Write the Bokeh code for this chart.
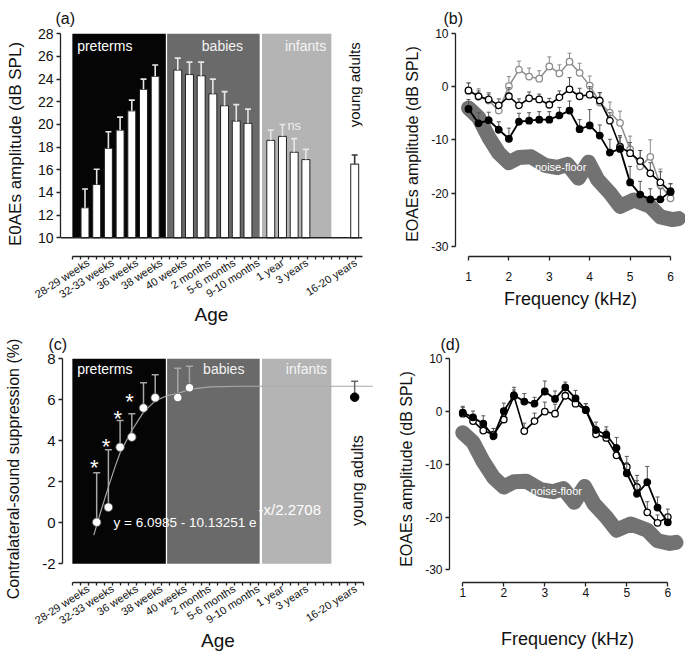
import numpy as np
from bokeh.plotting import figure
from bokeh.layouts import row, column
from bokeh.models import Range1d, LinearAxis, FixedTicker, Span
from bokeh.core.properties import value
from bokeh.embed import file_html
from bokeh.resources import INLINE

FONT = "Liberation Sans"

# ---------------- data: panel (a) E0AE amplitude by age group ----------------
GROUPS = ["preterms", "babies", "infants", "young adults"]
preterm_amp = [12.65, 14.7, 17.9, 19.5, 21.2, 23.1, 24.25]
preterm_err = [1.65, 1.35, 1.45, 1.15, 0.95, 0.9, 1.0]
babies_amp = [24.8, 24.4, 24.3, 22.7, 21.65, 20.3, 20.1]
babies_err = [1.05, 1.1, 1.2, 1.3, 1.25, 1.45, 1.25]
infant_amp = [18.6, 18.95, 17.55, 16.9]
infant_err = [0.9, 1.05, 1.2, 0.9]
adult_amp = [16.5]
adult_err = [0.8]

AGE_LABELS = ["28-29 weeks", "32-33 weeks", "36 weeks", "38 weeks", "40 weeks",
              "2 months", "5-6 months", "9-10 months", "1 year", "3 years", "",
              "16-20 years"]

# ---------------- data: panel (c) contralateral suppression ----------------
supp_mean = [0.03, 0.76, 3.69, 4.18, 5.6, 6.1, 6.11, 6.59]
supp_err = [2.41, 2.8, 1.3, 1.14, 1.23, 1.12, 1.43, 1.05]
adult_supp = [6.13]
adult_supp_err = [0.77]
star_y = [3.0, 4.0, 5.4, 6.2]
fit_x = [1.75, 2.32, 3.03, 3.61, 4.03, 5.0, 6.0, 7.0, 8.0, 9.0, 10.0, 11.7, 14.3, 25.6]
fit_y = [-0.6, 0.5, 1.8, 2.8, 3.45, 4.5, 5.4, 5.95, 6.2, 6.32, 6.52, 6.63, 6.66, 6.66]
EQUATION = "y = 6.0985 - 10.13251 e"
EQUATION_EXP = "-x/2.2708"

# ---------------- data: panels (b) and (d) EOAE spectra ----------------
FREQ = [1.0, 1.25, 1.5, 1.75, 2.0, 2.25, 2.5, 2.75, 3.0, 3.25, 3.5, 3.75, 4.0,
        4.25, 4.5, 4.75, 5.0, 5.25, 5.5, 5.75, 6.0]
b_black = [-4.2, -6.9, -6.3, -8.1, -9.8, -6.6, -6.4, -6.2, -6.2, -5.4, -4.5, -8.0,
           -7.3, -9.2, -12.4, -11.7, -18.0, -20.3, -21.2, -21.2, -19.7]
b_black_err = [1.8, 2.0, 1.5, 1.5, 2.0, 1.6, 1.5, 1.5, 1.5, 1.5, 1.8, 1.8, 3.0,
               2.0, 2.5, 2.5, 3.0, 2.5, 2.0, 2.0, 1.5]
b_white = [-0.7, -1.8, -2.4, -3.5, -1.8, -3.5, -2.2, -2.4, -3.4, -2.0, -0.5, -1.8,
           -1.5, -2.6, -6.4, -11.3, -12.5, -14.0, -16.3, -18.0, -19.8]
b_white_err = [1.4, 1.0, 1.0, 1.2, 1.6, 1.2, 1.2, 1.0, 1.2, 1.2, 2.2, 1.5, 1.5,
               1.5, 1.5, 1.8, 2.0, 2.0, 2.0, 2.0, 1.5]
b_gray = [-0.8, -1.9, -2.6, -4.5, 0.1, 3.2, 1.9, 1.5, 3.8, 2.5, 4.7, 2.6, 0.2,
          -3.0, -4.9, -6.8, -11.8, -15.0, -13.2, -18.5, -21.0]
b_gray_err = [1.5, 1.5, 1.5, 1.5, 1.8, 1.6, 1.6, 1.5, 1.8, 1.6, 1.6, 1.8, 1.8,
              1.8, 2.0, 2.2, 2.5, 3.0, 3.2, 3.0, 2.0]
d_black = [-0.2, -1.1, -2.3, -4.7, 0.1, 3.1, 1.9, 1.5, 3.8, 2.4, 4.6, 2.5, 0.3,
           -3.5, -4.4, -6.9, -11.7, -15.6, -13.4, -18.2, -21.0]
d_black_err = [1.2, 1.2, 1.5, 1.5, 1.5, 1.5, 1.5, 1.2, 2.0, 1.5, 1.0, 1.5, 1.2,
               1.5, 1.5, 2.0, 2.0, 2.5, 3.0, 2.0, 1.5]
d_white = [-0.4, -1.8, -3.6, -4.4, -1.5, 2.9, -3.7, -1.8, 0.0, -0.4, 3.0, 1.5, 0.3,
           -4.3, -5.0, -8.3, -10.5, -14.3, -19.1, -21.1, -20.0]
d_white_err = [1.2, 1.2, 1.2, 1.2, 1.5, 1.2, 1.5, 1.5, 1.8, 1.8, 1.2, 1.2, 1.2,
               1.2, 1.5, 1.5, 2.0, 2.2, 2.0, 1.5, 1.5]
noise_f = [1.0, 1.25, 1.5, 1.75, 2.0, 2.25, 2.55, 2.9, 3.2, 3.45, 3.72, 3.97, 4.2,
           4.5, 4.75, 5.1, 5.5, 5.75, 6.05, 6.2]
noise_db = [-4.0, -5.8, -9.5, -12.5, -14.3, -13.3, -13.2, -14.8, -15.2, -14.6, -17.2,
            -14.2, -17.5, -20.0, -22.5, -21.3, -22.5, -24.5, -25.0, -24.8]

# ---------------- layout helpers (positions / styles) ----------------
GROUP_START = [1.0, 8.93, 16.88, 24.05]
pre_x = [GROUP_START[0] + i for i in range(len(preterm_amp))]
bab_x = [GROUP_START[1] + i for i in range(len(babies_amp))]
inf_x = [GROUP_START[2] + i for i in range(len(infant_amp))]
adu_x = [GROUP_START[3]]
REGION_SPANS = [(-0.08, 7.91), (8.02, 15.93), (16.13, 22.06)]
REGION_COLORS = ["#050505", "#6a6a6a", "#b4b4b4"]
AGE_TICK_STEP = 3


def base_fig(width, height, left, right, top, bottom, xr, yr, title, title_offset, title_standoff):
    p = figure(width=width, height=height, x_range=xr, y_range=yr,
               x_axis_location=None, y_axis_location=None,
               toolbar_location=None, output_backend="svg",
               min_border_left=left, min_border_right=right,
               min_border_top=top, min_border_bottom=bottom, title=title)
    p.outline_line_color = None
    p.grid.visible = False
    p.background_fill_color = "white"
    p.border_fill_color = "white"
    p.title.text_font = FONT
    p.title.text_font_size = "16px"
    p.title.text_font_style = "normal"
    p.title.text_color = "#111111"
    p.title.align = "left"
    p.title.offset = title_offset
    p.title.standoff = title_standoff
    return p


def style_axis(ax, tick_size, label_size, label_standoff, tick_standoff, tick_out=4):
    ax.axis_line_color = "#222222"
    ax.axis_line_width = 1.3
    ax.major_tick_line_color = "#222222"
    ax.major_tick_line_width = 1.3
    ax.major_tick_in = 0
    ax.major_tick_out = tick_out
    ax.minor_tick_line_color = None
    ax.major_label_text_font = FONT
    ax.major_label_text_font_size = tick_size
    ax.major_label_text_color = "#111111"
    ax.major_label_standoff = tick_standoff
    ax.axis_label_text_font = FONT
    ax.axis_label_text_font_size = label_size
    ax.axis_label_text_font_style = "normal"
    ax.axis_label_text_color = "#111111"
    ax.axis_label_standoff = label_standoff


def y_axis(p, ticks, bounds, label, tick_size, label_size, label_standoff):
    ax = LinearAxis(ticker=FixedTicker(ticks=ticks), bounds=bounds, axis_label=label,
                    major_label_overrides={t: str(t) for t in ticks})
    style_axis(ax, tick_size, label_size, label_standoff, 3)
    p.add_layout(ax, "left")


def age_axis(p, rng, label_standoff):
    p.extra_x_ranges = {"age": rng}
    n_ticks = AGE_TICK_STEP * len(AGE_LABELS)
    major = [2 + AGE_TICK_STEP * k for k, lab in enumerate(AGE_LABELS) if lab]
    minor = [t for t in range(n_ticks + 1) if t not in major]
    ax = LinearAxis(x_range_name="age", ticker=FixedTicker(ticks=major, minor_ticks=minor),
                    bounds=(0, n_ticks), axis_label="Age",
                    major_label_overrides={2 + AGE_TICK_STEP * k: lab
                                           for k, lab in enumerate(AGE_LABELS) if lab})
    style_axis(ax, "11px", "19px", label_standoff, 2, tick_out=3)
    ax.minor_tick_line_color = "#222222"
    ax.minor_tick_line_width = 1.3
    ax.minor_tick_in = 0
    ax.minor_tick_out = 3
    ax.major_label_orientation = 0.57
    p.add_layout(ax, "below")


def regions(p, bottom, top):
    p.quad(left=[s[0] for s in REGION_SPANS], right=[s[1] for s in REGION_SPANS],
           bottom=bottom, top=top, fill_color=REGION_COLORS, line_color=None)


def txt(p, x, y, t, size, color, align="left", angle=0.0):
    p.text(x=x, y=y, text=t, text_font=value(FONT), text_font_size=size,
           text_color=color, text_align=align, text_baseline="middle", angle=angle)


def err_bars(p, xs, ys, errs, color, width, cap):
    tops = [y + e for y, e in zip(ys, errs)]
    p.segment(x0=xs, y0=ys, x1=xs, y1=tops, line_color=color, line_width=width)
    p.scatter(x=xs, y=tops, marker="dash", size=cap, line_color=color, line_width=width)


# ---------------- panel (a) ----------------
pa = base_fig(395, 330, 60, 33, 31, 74, Range1d(-1.094, 24.72), Range1d(8.35, 28.2),
              "(a)", -5, 9)
regions(pa, 10, 28)
pa.add_layout(Span(location=10, dimension="width", line_color="#222222", line_width=1.5))
bar_x = pre_x + bab_x + inf_x
bar_top = preterm_amp + babies_amp + infant_amp
bar_err = preterm_err + babies_err + infant_err
pa.vbar(x=bar_x, top=bar_top, bottom=10, width=0.68, fill_color="white",
        line_color="#202020", line_width=1)
pa.vbar(x=adu_x, top=adult_amp, bottom=10, width=0.68, fill_color="white",
        line_color="#444444", line_width=1.2)
err_bars(pa, bar_x, bar_top, bar_err, "#e6e6e6", 1.6, 6)
err_bars(pa, adu_x, adult_amp, adult_err, "#333333", 1.6, 6)
txt(pa, [0.33], [26.95], [GROUPS[0]], "14px", "white")
txt(pa, [12.75], [26.95], [GROUPS[1]], "14px", "#f2f2f2", "center")
txt(pa, [19.85], [26.95], [GROUPS[2]], "14px", "#f4f4f4", "center")
txt(pa, [adu_x[0]], [23.5], [GROUPS[3]], "15px", "#111111", "center", np.pi / 2)
txt(pa, [18.3], [19.9], ["ns"], "13px", "#eeeeee")
y_axis(pa, list(range(10, 29, 2)), (10, 28), "E0AEs amplitude (dB SPL)", "14px", "17px", 10)
age_axis(pa, Range1d(-1.444, 35.84), -4)

# ---------------- panel (c) ----------------
pc = base_fig(395, 326, 62, 22, 25, 74, Range1d(-0.923, 25.66), Range1d(-2.912, 8.161),
              "(c)", -14, 5)
regions(pc, -2, 8)
supp_x = pre_x[1:] + bab_x[:2]
pc.line(fit_x, fit_y, line_color="#a8a8a8", line_width=1.2)
err_bars(pc, supp_x, supp_mean, supp_err, "#a6a6a6", 1.5, 7)
err_bars(pc, adu_x, adult_supp, adult_supp_err, "#666666", 1.5, 7)
pc.scatter(supp_x, supp_mean, marker="circle", size=8.5, fill_color="white",
           line_color="#555555", line_width=0.8)
pc.scatter(adu_x, adult_supp, marker="circle", size=8.5, fill_color="black",
           line_color="black")
star_x = [x - 0.2 for x in supp_x[:len(star_y)]]
pc.text(x=star_x, y=star_y, text=["*"] * len(star_y), text_font=value(FONT),
        text_font_size="22px", text_color="white", text_align="center",
        text_baseline="middle", y_offset=6)
txt(pc, [0.33], [7.5], [GROUPS[0]], "14px", "white")
txt(pc, [12.86], [7.5], [GROUPS[1]], "14px", "#f2f2f2", "center")
txt(pc, [19.93], [7.5], [GROUPS[2]], "14px", "#f4f4f4", "center")
txt(pc, [24.3], [2.06], [GROUPS[3]], "16px", "#111111", "center", np.pi / 2)
txt(pc, [3.44], [0.0], [EQUATION], "13.5px", "white")
txt(pc, [15.83], [0.65], [EQUATION_EXP], "15px", "white")
y_axis(pc, list(range(-2, 9, 2)), (-2, 8), "Contralateral-sound suppression (%)",
       "15px", "16px", 17)
age_axis(pc, Range1d(-1.198, 37.2), -4)


# ---------------- panels (b) and (d) ----------------
def spectrum_fig(width, height, left, top, bottom, xr, yr, title, t_off, t_stand,
                 series, x_tick_standoff, x_label_standoff, y_label_standoff):
    p = base_fig(width, height, left, 0, top, bottom, xr, yr, title, t_off, t_stand)
    p.line(noise_f, noise_db, line_color="#727272", line_width=15,
           line_cap="round", line_join="round")
    txt(p, [3.28], [-15.1], ["noise-floor"], "11px", "white", "center")
    for ys, errs, line_c, fill_c, lw in series:
        p.line(FREQ, ys, line_color=line_c, line_width=lw)
        err_bars(p, FREQ, ys, errs, "#8a8a8a" if line_c != "black" else "#555555", 1, 4)
        p.scatter(FREQ, ys, marker="circle", size=6.5, fill_color=fill_c,
                  line_color=line_c, line_width=1.3)
    y_axis(p, [-30, -20, -10, 0, 10], (-30, 10), "EOAEs amplitude (dB SPL)", "12px", "16px",
           y_label_standoff)
    ax = LinearAxis(ticker=FixedTicker(ticks=[1, 2, 3, 4, 5, 6]), bounds=(1, 6),
                    axis_label="Frequency (kHz)")
    style_axis(ax, "12px", "18px", x_label_standoff, x_tick_standoff)
    p.add_layout(ax, "below")
    return p


pb = spectrum_fig(290, 330, 60, 31, 74, Range1d(0.678, 6.371), Range1d(-31.94, 10.376),
                  "(b)", -12, 9,
                  [(b_gray, b_gray_err, "#8c8c8c", "white", 1.5),
                   (b_white, b_white_err, "black", "white", 1.6),
                   (b_black, b_black_err, "black", "black", 1.8)], 11, 5, 7)
pd_ = spectrum_fig(290, 326, 54, 25, 74, Range1d(0.676, 6.432), Range1d(-32.41, 10.63),
                   "(d)", -9, 5,
                   [(d_white, d_white_err, "black", "white", 1.6),
                    (d_black, d_black_err, "black", "black", 1.8)], 1, 29, 7)

layout = column(row(pa, pb), row(pc, pd_))
open("out.html", "w").write(file_html(layout, INLINE))
